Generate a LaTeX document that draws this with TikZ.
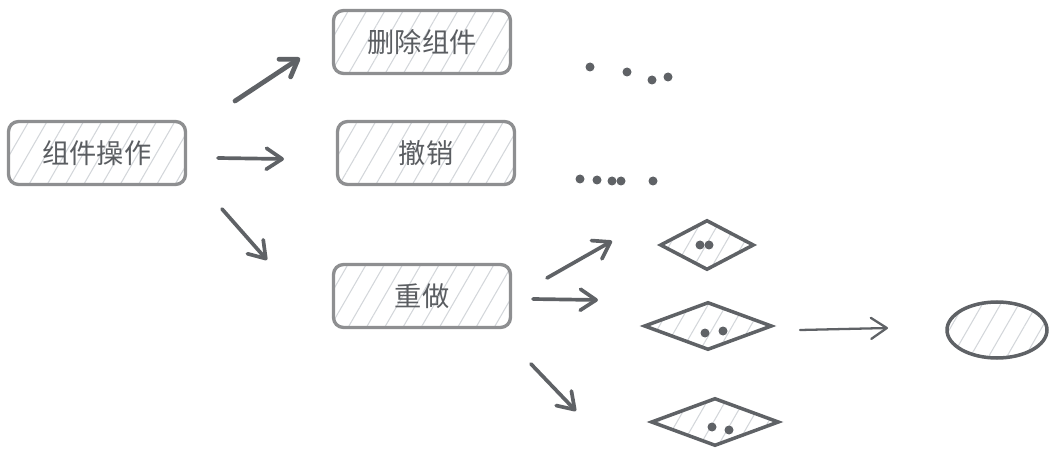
\documentclass[tikz,border=0pt]{standalone}
\usepackage{fontspec}
\setmainfont{Noto Sans CJK SC}
\usetikzlibrary{shapes.geometric,arrows.meta,patterns.meta}
\definecolor{inkgray}{HTML}{5F6266}
\definecolor{boxgray}{HTML}{8E8F91}
\definecolor{hatchgray}{HTML}{D3D6DA}
\definecolor{textgray}{HTML}{5A5D61}
\tikzset{
  hatch/.style={pattern={Lines[angle=60,distance=9pt,line width=0.6pt]}, pattern color=hatchgray},
  opbox/.style={draw=boxgray, line width=1.9pt, rounded corners=0.2cm, hatch,
    minimum width=3.54cm, minimum height=1.26cm, inner sep=0pt,
    text=textgray, font=\fontsize{15.5}{18}\selectfont},
  flag/.style={diamond, draw=inkgray, line width=2pt, hatch, inner sep=0pt},
  dot/.style={fill=inkgray, draw=none},
  flow/.style={draw=inkgray, line width=2.1pt, line cap=round,
    -{Straight Barb[length=9pt,width=12pt,round]}},
}
\begin{document}
\begin{tikzpicture}[x=0.02cm,y=-0.02cm]
  \useasboundingbox (0,0) rectangle (1056,456);

  % Drawing boxes
  \node[opbox] (op)   at (97,153)  {组件操作};
  \node[opbox] (del)  at (422,42)  {删除组件};
  \node[opbox] (undo) at (426,153) {撤销};
  \node[opbox] (redo) at (422,296) {重做};

  % Drawing arrows from op
  \coordinate (opA) at (235,101); \coordinate (delA) at (300,58);
  \coordinate (opB) at (218,158); \coordinate (undoA) at (284,159);
  \coordinate (opC) at (222,209); \coordinate (redoA) at (267,260);
  \draw[flow, line width=2.7pt] (opA) -- (delA);
  \draw[flow] (opB) -- (undoA);
  \draw[flow] (opC) -- (redoA);

  % Marking dots after del and undo
  \foreach \px/\py in {590/67, 627/72, 652/80, 668/77}
    \fill[dot] (\px,\py) circle (4.5);
  \foreach \px/\py in {580/179, 597/180, 612/181, 621/181, 653/181}
    \fill[dot] (\px,\py) circle (4.5);

  % Drawing diamonds
  \node[flag, minimum width=1.88cm, minimum height=1.0cm] (d1) at (707,245) {};
  \node[flag, minimum width=2.56cm, minimum height=0.96cm] (d2) at (708,326) {};
  \node[flag, minimum width=2.56cm, minimum height=0.96cm] (d3) at (715,422) {};
  \fill[dot] (700,245) circle (4.5); \fill[dot] (709,245) circle (4.5);
  \fill[dot] (705,333) circle (4.5); \fill[dot] (723,331) circle (4.5);
  \fill[dot] (712,427) circle (4.5); \fill[dot] (729,430) circle (4.5);

  % Drawing arrows from redo
  \coordinate (redoB) at (547,278); \coordinate (d1A) at (612,241);
  \coordinate (redoC) at (533,299); \coordinate (d2A) at (598,300);
  \coordinate (redoD) at (531,364); \coordinate (d3A) at (576,411);
  \draw[flow] (redoB) -- (d1A);
  \draw[flow] (redoC) -- (d2A);
  \draw[flow] (redoD) -- (d3A);

  % Drawing end ellipse
  \node[ellipse, draw=inkgray, line width=2pt, hatch,
    minimum width=2.0cm, minimum height=1.12cm] (fin) at (997,330) {};
  \coordinate (d2B) at (800,330); \coordinate (finA) at (888,328);
  \draw[flow, line width=1.3pt] (d2B) -- (finA);
\end{tikzpicture}
\end{document}
